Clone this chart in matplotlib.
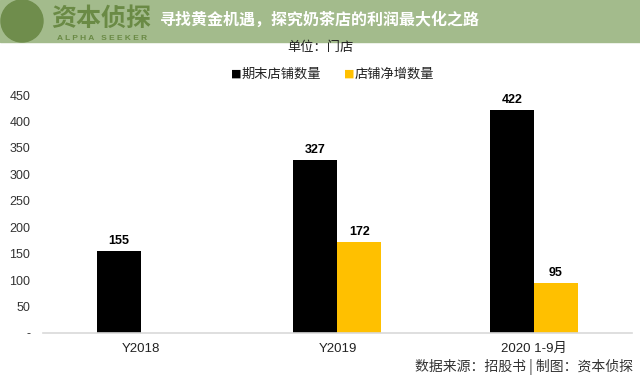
import matplotlib
matplotlib.use("Agg")
import matplotlib.pyplot as plt
from matplotlib.patches import Rectangle, Ellipse
import numpy as np

plt.rcParams['font.family'] = ['Liberation Sans', 'Noto Sans CJK SC', 'DejaVu Sans']

categories = ["Y2018", "Y2019", "2020 1-9月"]
end_stores = [155, 327, 422]
net_added = [None, 172, 95]
series_names = ["期末店铺数量", "店铺净增数量"]
yticks = [0, 50, 100, 150, 200, 250, 300, 350, 400, 450]
ytick_labels = ["-", "50", "100", "150", "200", "250", "300", "350", "400", "450"]
title = "寻找黄金机遇，探究奶茶店的利润最大化之路"
unit_text = "单位：门店"
source_text = "数据来源：招股书 | 制图：资本侦探"

BLACK = "#000000"
YELLOW = "#FFC000"
W, H = 640, 377

fig = plt.figure(figsize=(6.4, 3.77), dpi=100)
fig.patch.set_facecolor("white")
ax = fig.add_axes([0.067, 0.1167, 0.9205, 0.6313])

x = np.arange(len(categories))
w = 0.224
ax.bar(x - w / 2, end_stores, width=w, color=BLACK)
for xi, v in zip(x, end_stores):
    ax.text(xi - w / 2, v + 8, str(v), ha="center", va="bottom", fontsize=9, fontweight="bold")
for xi, v in zip(x, net_added):
    if v is None:
        continue
    ax.bar(xi + w / 2, v, width=w, color=YELLOW)
    ax.text(xi + w / 2, v + 8, str(v), ha="center", va="bottom", fontsize=9, fontweight="bold")

ax.set_xlim(-0.5, 2.5)
ax.set_ylim(0, 450)
ax.set_yticks(yticks)
ax.set_yticklabels(ytick_labels, fontsize=9, color="#333333")
ax.set_xticks(x)
ax.set_xticklabels(categories, fontsize=9.5, color="#222222",
                   family=['Liberation Sans', 'Noto Sans CJK SC'])
ax.tick_params(axis="both", length=0)
ax.tick_params(axis="x", pad=7)
ax.tick_params(axis="y", pad=9)
for s in ["top", "right", "left"]:
    ax.spines[s].set_visible(False)
ax.spines["bottom"].set_color("#d9d9d9")
ax.spines["bottom"].set_linewidth(1.2)

# header band
fig.patches.append(Rectangle((0, 1 - 42 / H), 1, 42 / H, transform=fig.transFigure,
                             color="#a3bb8c", zorder=0))
fig.patches.append(Ellipse((22 / W, 1 - 21 / H), 42 / W, 42 / H, transform=fig.transFigure,
                           color="#6f8d4c", zorder=1))
fig.text(101 / W, 1 - 19 / H, "资本侦探", fontsize=18, color="#6a8a45", fontweight="bold",
         family=['Noto Sans CJK SC'], ha="center", va="center")
fig.text(102 / W, 1 - 38 / H, "A L P H A   S E E K E R", fontsize=6, color="#6a8a45",
         fontweight="bold", ha="center", va="center")
fig.text(160 / W, 1 - 20 / H, title, fontsize=11.5, color="white", fontweight="bold",
         family=['Noto Sans CJK SC'], ha="left", va="center")

fig.text(0.5, 1 - 47 / H, unit_text, fontsize=9.5, color="#222222",
         family=['Noto Sans CJK SC'], ha="center", va="center")

# legend
ly = 1 - 74 / H
fig.text(231 / W, ly, "■", fontsize=8, color=BLACK, ha="left", va="center", family=['DejaVu Sans'])
fig.text(242 / W, ly, series_names[0], fontsize=9.5, color="#222222",
         family=['Noto Sans CJK SC'], ha="left", va="center")
fig.text(344 / W, ly, "■", fontsize=8, color=YELLOW, ha="left", va="center", family=['DejaVu Sans'])
fig.text(355 / W, ly, series_names[1], fontsize=9.5, color="#222222",
         family=['Noto Sans CJK SC'], ha="left", va="center")

fig.text(633 / W, 1 - 367 / H, source_text, fontsize=10, color="#333333",
         family=['Noto Sans CJK SC'], ha="right", va="center")

fig.savefig("out.png", dpi=100)
